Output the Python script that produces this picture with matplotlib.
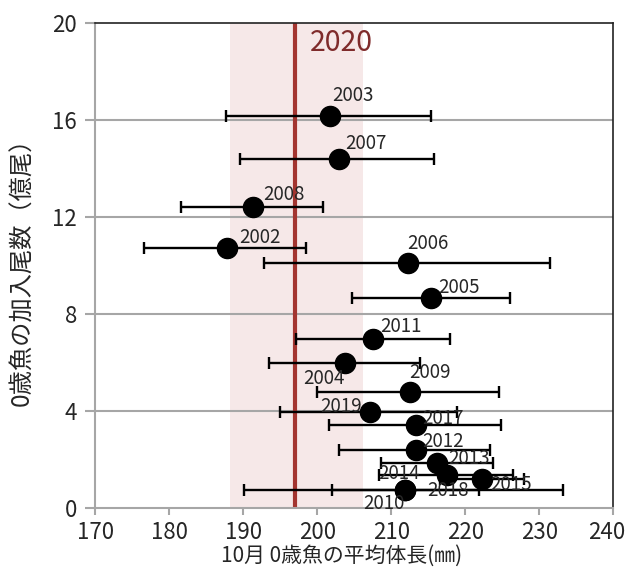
import matplotlib
matplotlib.use("Agg")
import matplotlib.pyplot as plt
from matplotlib.transforms import ScaledTranslation

plt.rcParams['font.family'] = ['Noto Sans CJK JP', 'DejaVu Sans']

# ---- data ----
years = [2003, 2007, 2008, 2002, 2006, 2005, 2011, 2004, 2009, 2019,
         2017, 2012, 2013, 2014, 2015, 2018, 2010]
mean_length = [201.7, 202.9, 191.3, 187.8, 212.2, 215.4, 207.6, 203.7, 212.5, 207.1,
               213.4, 213.4, 216.2, 217.6, 222.3, 211.8, 211.8]
recruits = [16.16, 14.39, 12.42, 10.71, 10.12, 8.65, 6.97, 5.97, 4.80, 3.95,
            3.42, 2.39, 1.84, 1.35, 1.21, 0.74, 0.74]
length_low = [187.7, 189.6, 181.6, 176.6, 192.8, 204.7, 197.1, 193.5, 200.0, 194.9,
              201.6, 203.0, 208.6, 208.4, 216.6, 202.0, 190.1]
length_high = [215.4, 215.8, 200.8, 198.5, 231.5, 226.1, 218.0, 213.9, 224.6, 218.9,
               224.8, 223.4, 223.7, 226.5, 228.0, 221.8, 233.2]

year_2020 = 197.0
band_2020 = (188.2, 206.2)
x_ticks = [170, 180, 190, 200, 210, 220, 230, 240]
y_ticks = [0, 4, 8, 12, 16, 20]

# label offsets in pixels (dx, dy downwards, alignment)
label_offsets = {
    2003: (2, -21, 'left'), 2007: (6, -16, 'left'), 2008: (10, -12, 'left'),
    2002: (12, -11, 'left'), 2006: (0, -19, 'left'), 2005: (7, -11, 'left'),
    2011: (7, -13, 'left'), 2004: (0, 15, 'right'), 2009: (-1, -19, 'left'),
    2019: (-8, -6, 'right'), 2017: (6, -7, 'left'), 2012: (6, -9, 'left'),
    2013: (11, -5, 'left'), 2014: (-28, -2, 'right'), 2015: (8, 6, 'left'),
    2018: (23, 0, 'left'), 2010: (0, 13, 'right'),
}

fig = plt.figure(figsize=(6.27, 5.76), dpi=100)
ax = fig.add_axes([0.152, 0.118, 0.826, 0.842])

ax.axvspan(band_2020[0], band_2020[1], color='#F6E8E8', zorder=0, lw=0)
for yv in y_ticks[1:-1]:
    ax.axhline(yv, color='#A6A6A6', lw=1.5, zorder=1)
ax.axvline(year_2020, color='#A33530', lw=3, zorder=2)
ax.text(199.0, 19.18, '2020', color='#7F2B2B', fontsize=20.5, va='center', ha='left', zorder=5)

xerr = [[m - lo for m, lo in zip(mean_length, length_low)],
        [hi - m for m, hi in zip(mean_length, length_high)]]
ax.errorbar(mean_length, recruits, xerr=xerr, fmt='none', ecolor='black',
            elinewidth=1.7, capsize=4.5, capthick=1.7, zorder=3)
ax.plot(mean_length, recruits, 'o', color='black', markersize=14.5, zorder=4)

px2pt = 72 / 100
for yr, xv, yv in zip(years, mean_length, recruits):
    dx, dy, ha = label_offsets[yr]
    ax.annotate(str(yr), (xv, yv), xytext=(dx * px2pt, -dy * px2pt),
                textcoords='offset points', ha=ha, va='center',
                fontsize=13.5, color='#262626', zorder=5)

ax.set_xlim(170, 240)
ax.set_ylim(0, 20)
ax.set_xticks(x_ticks)
ax.set_yticks(y_ticks)
ax.tick_params(axis='both', colors='#A6A6A6', width=1.5, labelcolor='#262626', labelsize=16)
ax.tick_params(axis='y', length=7, pad=6)
ax.tick_params(axis='x', length=5, pad=4)

for s in ['left', 'bottom']:
    ax.spines[s].set_color('#A6A6A6')
    ax.spines[s].set_linewidth(1.5)
for s in ['top', 'right']:
    ax.spines[s].set_color('#222222')
    ax.spines[s].set_linewidth(1.2)

ax.set_xlabel('10月 0歳魚の平均体長(㎜)', fontsize=15, color='#262626')
ax.set_ylabel('0歳魚の加入尾数（億尾）', fontsize=17.5, color='#262626')
ax.xaxis.set_label_coords(0.476, -0.075)
ax.yaxis.set_label_coords(-0.115, 0.5)

fig.canvas.draw()
last = ax.get_xticklabels()[-1]
last.set_transform(last.get_transform() + ScaledTranslation(-6 / 100, 0, fig.dpi_scale_trans))

fig.savefig('out.png', dpi=100)
